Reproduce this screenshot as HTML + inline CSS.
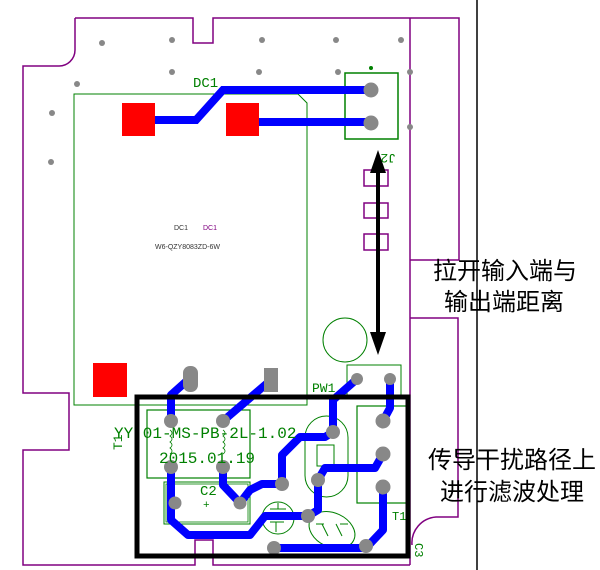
<!DOCTYPE html>
<html><head><meta charset="utf-8"><style>
html,body{margin:0;padding:0;background:#fff;width:600px;height:570px;overflow:hidden}
svg{display:block}
.cn{font-family:"Liberation Sans","Noto Sans CJK SC",sans-serif;font-size:24px;fill:#000}
.g{font-family:"Liberation Mono",monospace;fill:#008000}
</style></head><body>
<svg width="600" height="570" viewBox="0 0 600 570" xmlns="http://www.w3.org/2000/svg">
<rect width="600" height="570" fill="#fff"/>
<g fill="none" stroke="#800080" stroke-width="1.5">
<path d="M75,18 H193 V43 H213 V18 H459 V260 H410"/>
<path d="M75,18 V50 A16,16 0 0 1 58,66 H23 V393 H69 V450 H23 V565 H195 V540 H213 V565 H410"/>
<path d="M410,18 V565"/>
<path d="M410,318 H458 V517 H436 A26,26 0 0 0 412,545"/>
<rect x="364" y="170" width="24" height="16"/>
<rect x="364" y="203" width="24" height="15"/>
<rect x="364" y="234" width="24" height="16"/>
</g>
<line x1="477" y1="0" x2="477" y2="570" stroke="#000" stroke-width="1.5"/>
<g fill="#888">
<circle cx="102" cy="43" r="3"/><circle cx="172" cy="40" r="3"/><circle cx="262" cy="40" r="3"/>
<circle cx="336" cy="40" r="3"/><circle cx="401" cy="40" r="3"/><circle cx="172" cy="72" r="3"/>
<circle cx="259" cy="72" r="3"/><circle cx="338" cy="72" r="3"/><circle cx="410" cy="72" r="3"/>
<circle cx="77" cy="84" r="3"/><circle cx="52" cy="113" r="3"/><circle cx="51" cy="162" r="3"/>
<circle cx="410" cy="127" r="3"/>
</g>
<path d="M74,94 H298 L307,103 V405 H74 Z" fill="none" stroke="#008000" stroke-width="1"/>
<text x="193" y="87" class="g" font-size="14" font-family="Liberation Sans">DC1</text>
<text x="174" y="230" font-family="Liberation Sans" font-size="7" fill="#333">DC1</text>
<text x="203" y="230" font-family="Liberation Sans" font-size="7" fill="#800080">DC1</text>
<text x="155" y="249" font-family="Liberation Sans" font-size="7" fill="#333">W6-QZY8083ZD-6W</text>
<rect x="345" y="73" width="53" height="66" fill="none" stroke="#008000" stroke-width="1.5"/>
<circle cx="371" cy="68" r="2" fill="#008000"/>
<text x="374" y="146" class="g" font-size="13" transform="rotate(180 385 150)" font-family="Liberation Sans">J2</text>
<g fill="none" stroke="#0000ff" stroke-width="8" stroke-linejoin="miter">
<path d="M371,90 H223 L196,120 H150"/>
<path d="M371,122 H250"/>
</g>
<rect x="122" y="103" width="33" height="33" fill="#f00"/>
<rect x="226" y="103" width="33" height="33" fill="#f00"/>
<circle cx="371" cy="90" r="7.5" fill="#888"/><circle cx="371" cy="123" r="7.5" fill="#888"/>
<rect x="93" y="363" width="34" height="34" fill="#f00"/>
<circle cx="345" cy="340" r="22" fill="none" stroke="#008000" stroke-width="1"/>
<rect x="347" y="365" width="54" height="30" fill="none" stroke="#008000" stroke-width="1"/>
<text x="312" y="392" class="g" font-size="13">PW1</text>
<rect x="147" y="410" width="103" height="68" fill="none" stroke="#008000" stroke-width="1.2"/>
<rect x="164" y="482" width="86" height="42" fill="none" stroke="#008000" stroke-width="1"/>
<rect x="166" y="484" width="82" height="38" fill="none" stroke="#008000" stroke-width="0.8"/>
<rect x="357" y="406" width="52" height="97" fill="none" stroke="#008000" stroke-width="1.2"/>
<rect x="305" y="416" width="43" height="81" rx="21.5" fill="none" stroke="#008000" stroke-width="1"/>
<rect x="317" y="445" width="17" height="21" fill="none" stroke="#008000" stroke-width="1"/>
<circle cx="278" cy="518" r="16" fill="none" stroke="#008000" stroke-width="1"/>
<ellipse cx="332" cy="530" rx="24" ry="17" transform="rotate(25 332 530)" fill="none" stroke="#008000" stroke-width="1"/>
<path d="M316,524 l8,0 M322,524 l6,12 M336,524 l6,12 M340,524 l8,0 M270,509 h16 M278,503 v6 M270,522 h14 M276,522 v10" stroke="#008000" stroke-width="1" fill="none"/>
<path d="M170,430 q4,3 0,6 q4,3 0,6 q4,3 0,6 q4,3 0,6 M223,430 q4,3 0,6 q4,3 0,6 q4,3 0,6 q4,3 0,6" stroke="#008000" stroke-width="0.8" fill="none"/>
<g fill="none" stroke="#0000ff" stroke-width="8" stroke-linejoin="round">
<path d="M190,378 L171,395 V421"/>
<path d="M223,421 L271,380"/>
<path d="M171,467 V520 L188,535 H250 L265,516 H308"/>
<path d="M223,467 V485 L240,503 L250,490 L262,484 H282"/>
<path d="M282,484 V455 L300,437 H325 L333,432"/>
<path d="M333,432 V400 L357,379"/>
<path d="M390,379 V408 L383,421"/>
<path d="M318,480 L325,468 H375 L383,454"/>
<path d="M318,480 V510 L308,516"/>
<path d="M274,548 H366 L383,530 V487"/>
</g>
<rect x="183" y="366" width="15" height="26" rx="7" fill="#888"/>
<rect x="264" y="368" width="14" height="24" fill="#888"/>
<g fill="#888">
<circle cx="171" cy="421" r="7"/><circle cx="223" cy="421" r="7"/><circle cx="171" cy="467" r="7"/><circle cx="223" cy="467" r="7"/>
<circle cx="175" cy="503" r="6.5"/><circle cx="240" cy="503" r="6.5"/><circle cx="282" cy="484" r="7"/>
<circle cx="333" cy="432" r="7"/><circle cx="318" cy="480" r="7"/><circle cx="308" cy="516" r="7"/>
<circle cx="274" cy="548" r="7"/><circle cx="366" cy="546" r="7"/>
<circle cx="383" cy="421" r="7.5"/><circle cx="383" cy="454" r="7.5"/><circle cx="383" cy="487" r="7.5"/>
<circle cx="357" cy="379" r="6"/><circle cx="390" cy="379" r="6"/>
</g>
<text x="114" y="438" class="g" font-size="16">YY 01-MS-PB-2L-1.02</text>
<text x="159" y="463" class="g" font-size="16">2015.01.19</text>
<text x="200" y="495" class="g" font-size="14">C2</text>
<text x="203" y="508" class="g" font-size="11">+</text>
<text x="117" y="455" class="g" font-size="13" transform="rotate(-90 117 450)">T1</text>
<text x="392" y="520" class="g" font-size="12">T1</text>
<text x="410" y="548" class="g" font-size="12" transform="rotate(90 415 548)">C3</text>
<rect x="137" y="397" width="271" height="159" fill="none" stroke="#000" stroke-width="5"/>
<line x1="378" y1="170" x2="378" y2="335" stroke="#000" stroke-width="4"/>
<polygon points="378,150 370,173 386,173" fill="#000"/>
<polygon points="378,355 370,332 386,332" fill="#000"/>
<text x="505" y="279" class="cn" text-anchor="middle">拉开输入端与</text>
<text x="504" y="310" class="cn" text-anchor="middle">输出端距离</text>
<text x="512" y="468" class="cn" text-anchor="middle">传导干扰路径上</text>
<text x="512" y="500" class="cn" text-anchor="middle">进行滤波处理</text>
</svg>
</body></html>
